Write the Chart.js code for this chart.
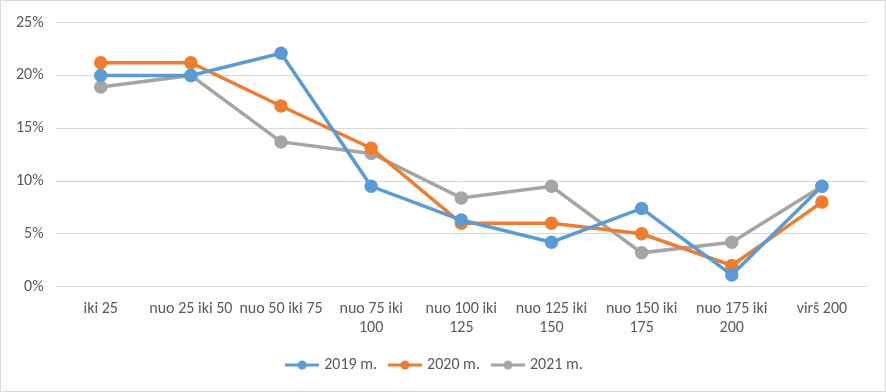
<!DOCTYPE html>
<html>
<head>
<meta charset="utf-8">
<script src="https://cdn.jsdelivr.net/npm/chart.js@4/dist/chart.umd.min.js"></script>
<style>
    html, body { margin: 0; padding: 0; background: #fff; }
    .chart-box {
        position: relative;
        width: 884px;
        height: 390px;
        border: 1px solid #d9d9d9;
    }
</style>
</head>
<body>
<div class="chart-box"><canvas id="chart"></canvas></div>
<script>
const categories = [
    'iki 25',
    'nuo 25 iki 50',
    'nuo 50 iki 75',
    ['nuo 75 iki', '100'],
    ['nuo 100 iki', '125'],
    ['nuo 125 iki', '150'],
    ['nuo 150 iki', '175'],
    ['nuo 175 iki', '200'],
    'virš 200'
];
const seriesNames = ['2019 m.', '2020 m.', '2021 m.'];
const values2019 = [20.0, 20.0, 22.1, 9.5, 6.3, 4.2, 7.4, 1.1, 9.5];
const values2020 = [21.2, 21.2, 17.1, 13.1, 6.0, 6.0, 5.0, 2.0, 8.0];
const values2021 = [18.9, 20.0, 13.7, 12.6, 8.4, 9.5, 3.2, 4.2, 9.5];
const yTicks = [0, 5, 10, 15, 20, 25];

const seriesColors = ['#5b9bd5', '#ed7d31', '#a5a5a5'];
const fontFamily = 'Carlito, "Open Sans", "Liberation Sans", sans-serif';

// legend marker: short line with a dot in the middle
function legendMarker(color) {
    const c = document.createElement('canvas');
    c.width = 34;
    c.height = 12;
    const g = c.getContext('2d');
    g.strokeStyle = color;
    g.lineWidth = 3;
    g.beginPath();
    g.moveTo(0, 6);
    g.lineTo(34, 6);
    g.stroke();
    g.fillStyle = color;
    g.beginPath();
    g.arc(17, 6, 4.5, 0, Math.PI * 2);
    g.fill();
    return c;
}

const allValues = [values2019, values2020, values2021];

const datasets = allValues.map((vals, i) => ({
    label: seriesNames[i],
    data: vals,
    borderColor: seriesColors[i],
    backgroundColor: seriesColors[i],
    borderWidth: 3.5,
    pointRadius: 5,
    pointHoverRadius: 5,
    pointStyle: 'circle',
    tension: 0,
    fill: false
}));

const markers = seriesColors.map(legendMarker);

new Chart(document.getElementById('chart'), {
    type: 'line',
    data: { labels: categories, datasets: datasets },
    options: {
        responsive: true,
        maintainAspectRatio: false,
        animation: false,
        layout: {
            padding: { left: 3, right: 18, top: 10, bottom: 8 }
        },
        plugins: {
            legend: {
                position: 'bottom',
                labels: {
                    usePointStyle: true,
                    pointStyleWidth: 28,
                    color: '#595959',
                    padding: 14,
                    font: { family: fontFamily, size: 16 },
                    generateLabels: chart => chart.data.datasets.map((ds, i) => ({
                        text: ds.label,
                        pointStyle: markers[i],
                        fontColor: '#595959',
                        strokeStyle: ds.borderColor,
                        fillStyle: ds.borderColor,
                        lineWidth: 0,
                        datasetIndex: i
                    }))
                }
            },
            tooltip: { enabled: false }
        },
        scales: {
            x: {
                offset: true,
                grid: { display: false },
                border: { display: false },
                ticks: {
                    color: '#595959',
                    maxRotation: 0,
                    autoSkip: false,
                    padding: 5,
                    font: { family: fontFamily, size: 16 }
                }
            },
            y: {
                min: 0,
                max: 25,
                border: { display: false },
                grid: { color: '#d9d9d9', lineWidth: 1, drawTicks: false },
                afterBuildTicks: axis => {
                    axis.ticks = yTicks.map(v => ({ value: v }));
                },
                ticks: {
                    color: '#595959',
                    padding: 12,
                    font: { family: fontFamily, size: 16 },
                    callback: value => value + '%'
                }
            }
        }
    }
});
</script>
</body>
</html>
